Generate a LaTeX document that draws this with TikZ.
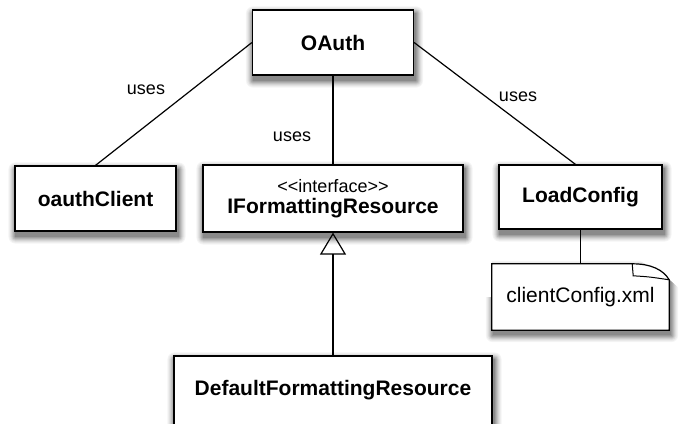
\documentclass[tikz,border=0pt]{standalone}
\usepackage{fontspec}
\setmainfont{Liberation Sans}
\usetikzlibrary{arrows.meta, positioning, calc, backgrounds}

\tikzset{
  cls/.style={draw, fill=white, line width=1.2pt, inner sep=0pt,
    font=\fontsize{21}{21}\selectfont\bfseries},
  lbl/.style={font=\fontsize{18}{21}\selectfont},
  conn/.style={line width=1.2pt},
}
% soft shadow below and right of a node
\newcommand\boxshadow[1]{%
  \foreach \g/\d in {4/7,8/6,13/5,19/4,26/3,33/2,40/1,46/0}{
    \fill[black!\g, rounded corners=\d] ($(#1.north west)+(1-\d,4-\d)$) rectangle ($(#1.south east)+(2+\d,5+\d)$);
  }}

\begin{document}
\begin{tikzpicture}[x=1pt, y=-1pt]
          \useasboundingbox (0,0) rectangle (679,423);

          % Classes
          \node[cls, minimum width=161, minimum height=65] (oauth) at (333,42.5) {OAuth};
          \node[cls, minimum width=161, minimum height=65] (client) at (95.5,198.5) {oauthClient};
          \node[cls, minimum width=260, minimum height=67, align=center] (iface) at (333,198.5)
            {{\fontsize{18}{21}\selectfont\mdseries <{}<interface>{}>}\\IFormattingResource};
          \node[cls, minimum width=163, minimum height=64] (loader) at (580.5,197) {LoadConfig};
          \node[cls, minimum width=318, minimum height=74, text height=15pt, text depth=11pt] (impl) at (333,393)
            {DefaultFormattingResource};

          % Note
          \node[minimum width=177, minimum height=66, inner sep=0pt, font=\fontsize{21}{21}\selectfont] (note) at (580.5,297) {};
          \draw[conn, fill=white]
            (note.north west) -- ($(note.north east)+(-37,0)$)
            .. controls ($(note.north east)+(-18,0)$) and ($(note.north east)+(-6,6)$) .. ($(note.north east)+(0,16)$)
            -- (note.south east) -- (note.south west) -- cycle;
          \draw[line width=1pt] ($(note.north east)+(-37,0)$) -- ($(note.north east)+(-36,12)$)
            .. controls ($(note.north east)+(-20,13)$) .. ($(note.north east)+(0,16)$);
          \node[font=\fontsize{21}{21}\selectfont] (notetext) at (note.center) {clientConfig.xml};

          % Shadows
          \begin{scope}[on background layer]
            \boxshadow{oauth}
            \boxshadow{client}
            \boxshadow{iface}
            \boxshadow{loader}
            \boxshadow{impl}
            \begin{scope}
              \clip (note.west) -- ($(note.north west)+(0,-8)$) -- ($(note.north east)+(-37,-8)$)
                -- ($(note.north east)+(0,16)$) -- ($(note.east)+(20,0)$) -- ($(note.south east)+(20,20)$)
                -- ($(note.south west)+(-20,20)$) -- ($(note.west)+(-20,0)$) -- cycle;
              \boxshadow{note}
            \end{scope}
          \end{scope}

          % Connectors
          \draw[conn] (oauth.west) -- (client.north);
          \draw[conn] (oauth.south) -- (iface.north);
          \draw[conn] (oauth.east) -- ([xshift=-5]loader.north);
          \draw[conn] (loader.south) -- (note.north);
          \draw[conn, -{Triangle[open, width=26pt, length=22pt]}] (impl.north) -- (iface.south);

          % Labels
          \node[lbl] (usesleft) at (146,90) {uses};
          \node[lbl] (usesmid) at (292,137) {uses};
          \node[lbl] (usesright) at (518,97) {uses};
        \end{tikzpicture}
\end{document}
